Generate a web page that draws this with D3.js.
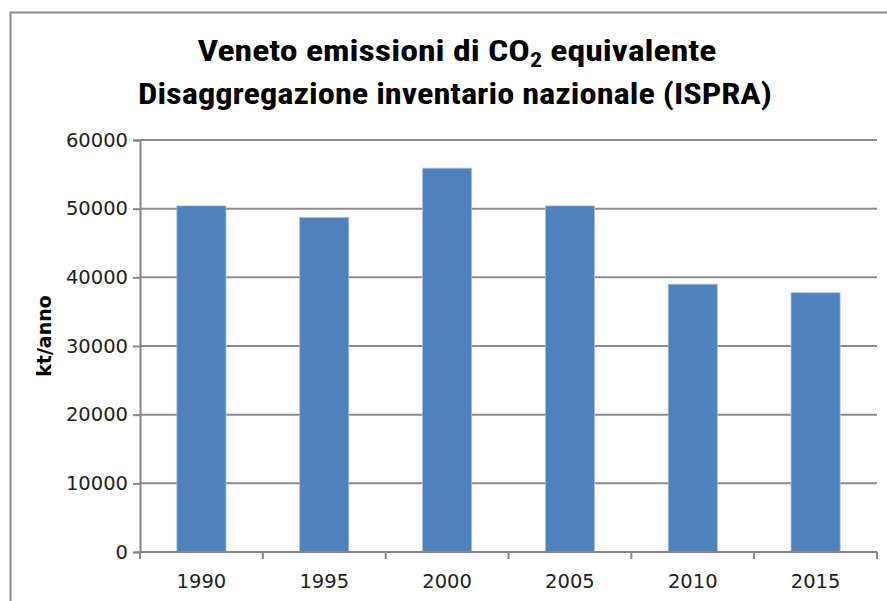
<!DOCTYPE html>
<html>
<head>
<meta charset="utf-8">
<script src="https://cdn.jsdelivr.net/npm/d3@7"></script>
<style>
  body { margin: 0; background: #fff; }
  svg text { font-family: "Liberation Sans Narrow", "Roboto Condensed", "Open Sans", sans-serif; }
</style>
</head>
<body>
<div id="chart"></div>
<script>
// data
var years = ["1990", "1995", "2000", "2005", "2010", "2015"];
var emissions = [50400, 48700, 55900, 50400, 39000, 37750];
var yTicks = [0, 10000, 20000, 30000, 40000, 50000, 60000];

var W = 887, H = 601;
var margin = {top: 140, right: 10, bottom: 49, left: 140},
    width = W - margin.left - margin.right,
    height = H - margin.top - margin.bottom;

var tickFont = "'DejaVu Sans', sans-serif";

var svg = d3.select("#chart").append("svg")
    .attr("width", W)
    .attr("height", H);

// outer chart frame (runs off the right / bottom edge)
svg.append("rect")
    .attr("x", 10.5).attr("y", 12.5)
    .attr("width", 950).attr("height", 700)
    .attr("fill", "none")
    .attr("stroke", "#8a8a8a")
    .attr("stroke-width", 2);

// title
var title = svg.append("g").attr("font-weight", "bold").attr("fill", "#000");
var t1 = title.append("text")
    .attr("x", 457).attr("y", 61)
    .attr("text-anchor", "middle")
    .attr("font-size", 30)
    .attr("textLength", 519).attr("lengthAdjust", "spacingAndGlyphs");
t1.append("tspan").text("Veneto emissioni di CO");
t1.append("tspan").attr("dy", 6).attr("font-size", 20).text("2");
t1.append("tspan").attr("dy", -6).text(" equivalente");

title.append("text")
    .attr("x", 455).attr("y", 104)
    .attr("text-anchor", "middle")
    .attr("font-size", 30)
    .attr("textLength", 634).attr("lengthAdjust", "spacingAndGlyphs")
    .text("Disaggregazione inventario nazionale (ISPRA)");

var g = svg.append("g")
    .attr("transform", "translate(" + margin.left + "," + margin.top + ")");

var x = d3.scaleBand()
    .domain(years)
    .range([0, width])
    .paddingInner(0.6)
    .paddingOuter(0.3);

var y = d3.scaleLinear()
    .domain([0, 60000])
    .range([height, 0]);

// gridlines
g.append("g")
    .selectAll("line")
    .data(yTicks.slice(1))
    .join("line")
    .attr("x1", 0).attr("x2", width)
    .attr("y1", d => y(d)).attr("y2", d => y(d))
    .attr("stroke", "#8c8c8c")
    .attr("stroke-width", 2);

// bars
g.append("g")
    .selectAll("rect")
    .data(years)
    .join("rect")
    .attr("x", d => x(d))
    .attr("y", (d, i) => y(emissions[i]))
    .attr("width", x.bandwidth())
    .attr("height", (d, i) => height - y(emissions[i]))
    .attr("fill", "#4f81bd")
    .attr("stroke", "#a9c1e0")
    .attr("stroke-width", 0.8);

// y axis
var yAxis = g.append("g")
    .call(d3.axisLeft(y).tickValues(yTicks).tickSize(7).tickPadding(5).tickFormat(d3.format("d")));
yAxis.select(".domain").attr("stroke", "#868686").attr("stroke-width", 2);
yAxis.selectAll(".tick line").attr("stroke", "#868686").attr("stroke-width", 2);
yAxis.selectAll(".tick text")
    .attr("fill", "#222")
    .style("font-size", "19.5px")
    .style("font-family", tickFont);

// x axis - ticks between categories like Excel
var xAxis = g.append("g").attr("transform", "translate(0," + height + ")");
xAxis.append("line")
    .attr("x1", 0).attr("x2", width)
    .attr("stroke", "#868686").attr("stroke-width", 2);
xAxis.selectAll(".xtick")
    .data(d3.range(years.length + 1))
    .join("line")
    .attr("class", "xtick")
    .attr("x1", i => i * width / years.length)
    .attr("x2", i => i * width / years.length)
    .attr("y1", 0).attr("y2", 7)
    .attr("stroke", "#868686").attr("stroke-width", 2);
xAxis.selectAll(".xlab")
    .data(years)
    .join("text")
    .attr("class", "xlab")
    .attr("x", d => x(d) + x.bandwidth() / 2)
    .attr("y", 36)
    .attr("text-anchor", "middle")
    .attr("fill", "#222")
    .style("font-size", "19.5px")
    .style("font-family", tickFont)
    .text(d => d);

// y axis title
svg.append("text")
    .attr("transform", "translate(51,336) rotate(-90)")
    .attr("text-anchor", "middle")
    .attr("font-weight", "bold")
    .attr("fill", "#000")
    .style("font-size", "19px")
    .style("font-family", tickFont)
    .text("kt/anno");
</script>
</body>
</html>
